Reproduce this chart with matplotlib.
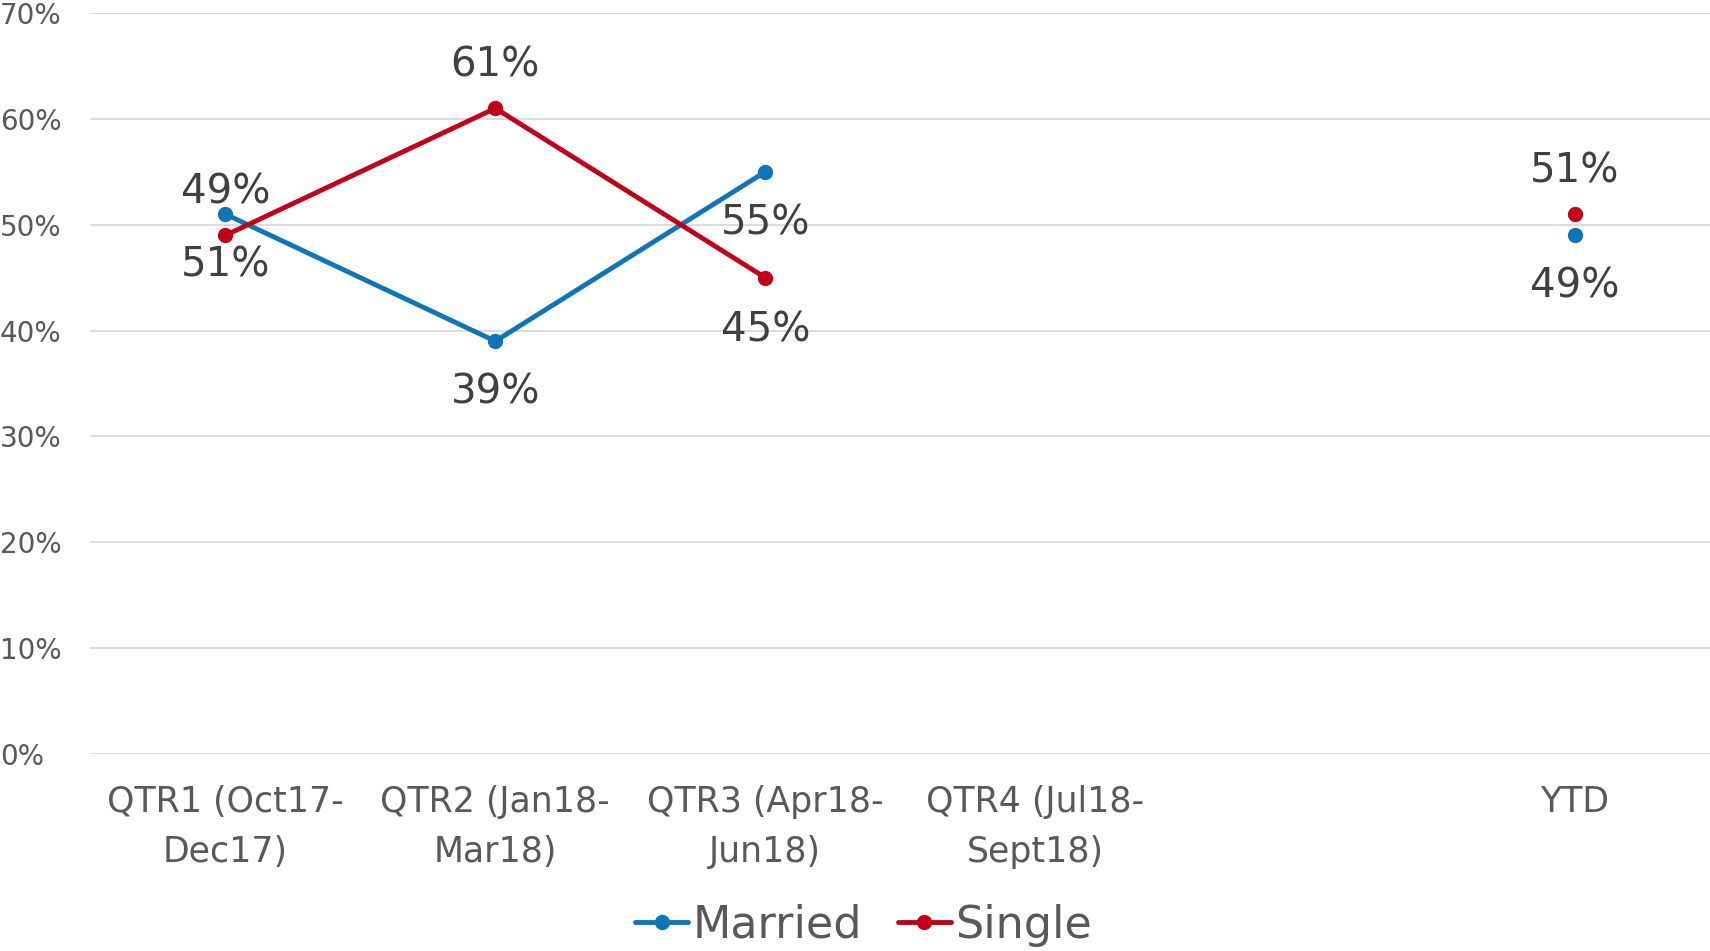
import numpy as np
import matplotlib.pyplot as plt

categorias = ["QTR1 (Oct17-\nDec17)", "QTR2 (Jan18-\nMar18)", "QTR3 (Apr18-\nJun18)",
              "QTR4 (Jul18-\nSept18)", "", "YTD"]
casados = [51, 39, 55, np.nan, np.nan, 49]
solteros = [49, 61, 45, np.nan, np.nan, 51]
etiquetas_casados = ["51%", "39%", "55%", "", "", "49%"]
etiquetas_solteros = ["49%", "61%", "45%", "", "", "51%"]
# donde va la etiqueta de cada serie: 1 arriba, -1 abajo
lado_solteros = [1, 1, -1, 0, 0, 1]

AZUL = "#0E76B8"
ROJO = "#C00018"
GRIS = "#595959"
TEXTO = "#404040"

plt.rcParams["font.family"] = ["DejaVu Sans"]

fig = plt.figure(figsize=(17.1, 9.51), dpi=100)
ax = fig.add_axes([0.0529, 0.2071, 0.9471, 0.7792])

x = np.arange(len(categorias))
ax.plot(x, casados, color=AZUL, lw=3.5, marker="o", ms=10, label="Married", solid_capstyle="round")
ax.plot(x, solteros, color=ROJO, lw=3.5, marker="o", ms=10, label="Single", solid_capstyle="round")

for i in range(len(categorias)):
    if etiquetas_casados[i]:
        ax.annotate(etiquetas_casados[i], (x[i], casados[i]), xytext=(0, -37),
                    textcoords="offset points", ha="center", va="center",
                    fontsize=29, color=TEXTO)
    if etiquetas_solteros[i]:
        desp = 31 if lado_solteros[i] > 0 else -38
        ax.annotate(etiquetas_solteros[i], (x[i], solteros[i]), xytext=(0, desp),
                    textcoords="offset points", ha="center", va="center",
                    fontsize=29, color=TEXTO)

ax.set_xlim(-0.5, len(categorias) - 0.5)
ax.set_ylim(0, 70)
ax.set_yticks(range(0, 71, 10))
ax.set_yticklabels([f"{v}%" for v in range(0, 71, 10)])
ax.set_xticks(x)
ax.set_xticklabels(categorias, linespacing=1.6)
ax.tick_params(axis="y", length=0, labelsize=20, labelcolor=GRIS, pad=0)
ax.tick_params(axis="x", length=0, labelsize=25, labelcolor=GRIS, pad=22)
for t in ax.get_yticklabels():
    t.set_horizontalalignment("left")
    t.set_x(-0.0529 / 0.9471)

ax.grid(axis="y", color="#D9D9D9", lw=1.3)
ax.set_axisbelow(True)
for lado in ax.spines.values():
    lado.set_visible(False)

leg = fig.legend(loc="center", bbox_to_anchor=(0.505, 0.027), ncol=2, frameon=False,
                 fontsize=32, handlelength=1.2, handletextpad=0.1, columnspacing=0.8)
for t in leg.get_texts():
    t.set_color(GRIS)

fig.savefig("out.png", dpi=100)
